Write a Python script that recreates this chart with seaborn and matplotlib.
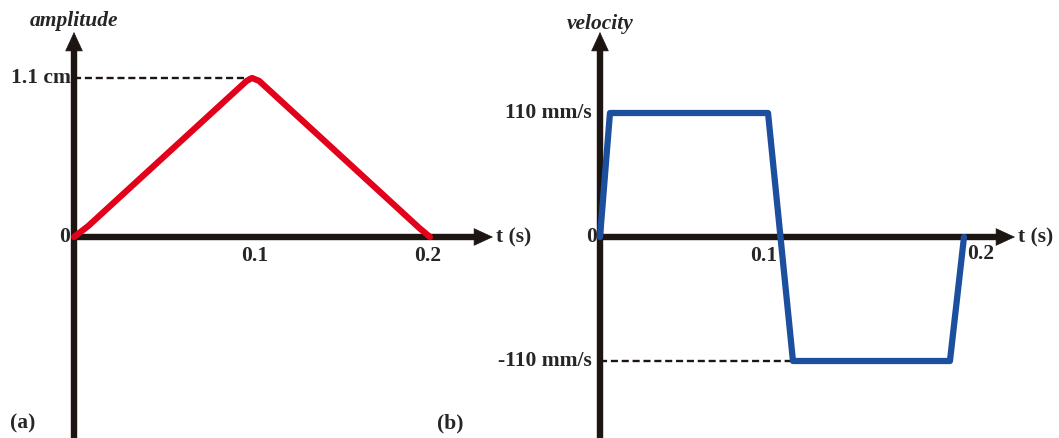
import matplotlib
matplotlib.use("Agg")
import matplotlib.pyplot as plt
import seaborn as sns
import pandas as pd

# amplitude curve (a)
amp_t = [0.0, 0.008, 0.097, 0.1, 0.104, 0.194, 0.2]
amp_cm = [0.0, 0.076, 1.08, 1.1, 1.08, 0.062, 0.0]
amp_peak = 1.1

# velocity curve (b)
vel_t = [0.0, 0.0056, 0.0944, 0.1084, 0.1966, 0.2045]
vel_mms = [0.0, 110, 110, -110, -110, 0.0]
vel_peak = 110

tick_t = [0.1, 0.2]
tick_labels = ["0.1", "0.2"]

sns.set_style("white")
plt.rcParams["font.family"] = ["Liberation Serif", "DejaVu Serif"]
plt.rcParams["font.weight"] = "bold"

INK = "#1d1512"
RED = "#e2001a"
BLUE = "#1d4f9f"
W, H = 1059, 438
PX = 1780.0  # pixels per unit of t
ZERO_Y = 237  # pixel row of the t axis
fs = 15.5

fig = plt.figure(figsize=(W / 100, H / 100), dpi=100)
fig.patch.set_facecolor("white")


def make_axes(left_px, right_px, x0_px, k):
    ax = fig.add_axes([left_px / W, 0, (right_px - left_px) / W, 1])
    ax.set_xlim((left_px - x0_px) / PX, (right_px - x0_px) / PX)
    ax.set_ylim((ZERO_Y - H) / k, ZERO_Y / k)
    ax.axis("off")
    return ax


def draw_axes(ax, x0_px, k, x_tip_px):
    # pixel -> data helpers
    tx = lambda p: (p - x0_px) / PX
    vy = lambda p: (ZERO_Y - p) / k
    ax.plot([0, 0], [vy(H + 5), vy(45)], color=INK, lw=4.6,
            solid_capstyle="butt", clip_on=False)
    ax.plot([0, tx(x_tip_px - 12)], [0, 0], color=INK, lw=4.6,
            solid_capstyle="butt", clip_on=False)
    head = dict(arrowstyle="-|>,head_length=1.3,head_width=0.6",
                mutation_scale=10, lw=0.5, color=INK, shrinkA=0, shrinkB=0)
    ax.annotate("", xy=(0, vy(32)), xytext=(0, vy(60)), arrowprops=head,
                annotation_clip=False)
    ax.annotate("", xy=(tx(x_tip_px), 0), xytext=(tx(x_tip_px - 30), 0),
                arrowprops=head, annotation_clip=False)
    return tx, vy


# ---- panel (a)
k_a = 159 / amp_peak
ax_a = make_axes(0, 530, 74, k_a)
tx, vy = draw_axes(ax_a, 74, k_a, 493)
ax_a.plot([0, 0.099], [amp_peak, amp_peak], ls=(0, (3, 1.6)), color=INK, lw=1.7)
sns.lineplot(data=pd.DataFrame({"t": amp_t, "a": amp_cm}), x="t", y="a",
             ax=ax_a, color=RED, lw=4.5, sort=False, zorder=5)
ax_a.axis("off")
ax_a.annotate("amplitude", xy=(0, vy(21)), ha="center", va="center",
              fontsize=fs, style="italic", fontweight="bold")
ax_a.annotate("1.1 cm", xy=(0, amp_peak), xytext=(-3, 0), textcoords="offset pixels",
              ha="right", va="center", fontsize=fs)
ax_a.annotate("0", xy=(0, 0), xytext=(-4, 0), textcoords="offset pixels",
              ha="right", va="center", fontsize=fs)
for t, lab, dx in zip(tick_t, tick_labels, [3, -2]):
    ax_a.annotate(lab, xy=(t, 0), xytext=(dx, -19), textcoords="offset pixels",
                  ha="center", va="center", fontsize=fs)
ax_a.annotate("t (s)", xy=(tx(493), 0), xytext=(3, 0),
              textcoords="offset pixels", ha="left", va="center", fontsize=fs)
ax_a.annotate("(a)", xy=(10, 15), xycoords="axes pixels", ha="left", va="center",
              fontsize=fs)

# ---- panel (b)
k_b = 124 / vel_peak
ax_b = make_axes(530, 1059, 600, k_b)
tx, vy = draw_axes(ax_b, 600, k_b, 1015)
ax_b.plot([0, 0.108], [-vel_peak, -vel_peak], ls=(0, (3, 1.6)), color=INK, lw=1.7)
sns.lineplot(data=pd.DataFrame({"t": vel_t, "v": vel_mms}), x="t", y="v",
             ax=ax_b, color=BLUE, lw=4.5, sort=False, zorder=5)
ax_b.axis("off")
ax_b.annotate("velocity", xy=(0, vy(24)), ha="center", va="center",
              fontsize=fs, style="italic", fontweight="bold")
ax_b.annotate("110 mm/s", xy=(0, vel_peak), xytext=(-8, 0), textcoords="offset pixels",
              ha="right", va="center", fontsize=fs)
ax_b.annotate("-110 mm/s", xy=(0, -vel_peak), xytext=(-8, 0), textcoords="offset pixels",
              ha="right", va="center", fontsize=fs)
ax_b.annotate("0", xy=(0, 0), xytext=(-3, 0), textcoords="offset pixels",
              ha="right", va="center", fontsize=fs)
for t, lab, dx, dy in zip(tick_t, tick_labels, [-14, 25], [-19, -17]):
    ax_b.annotate(lab, xy=(t, 0), xytext=(dx, dy), textcoords="offset pixels",
                  ha="center", va="center", fontsize=fs)
ax_b.annotate("t (s)", xy=(tx(1015), 0), xytext=(3, 0),
              textcoords="offset pixels", ha="left", va="center", fontsize=fs)
ax_b.annotate("(b)", xy=(-93, 15), xycoords="axes pixels", ha="left", va="center",
              fontsize=fs)

plt.savefig("out.png", dpi=100, facecolor="white")
